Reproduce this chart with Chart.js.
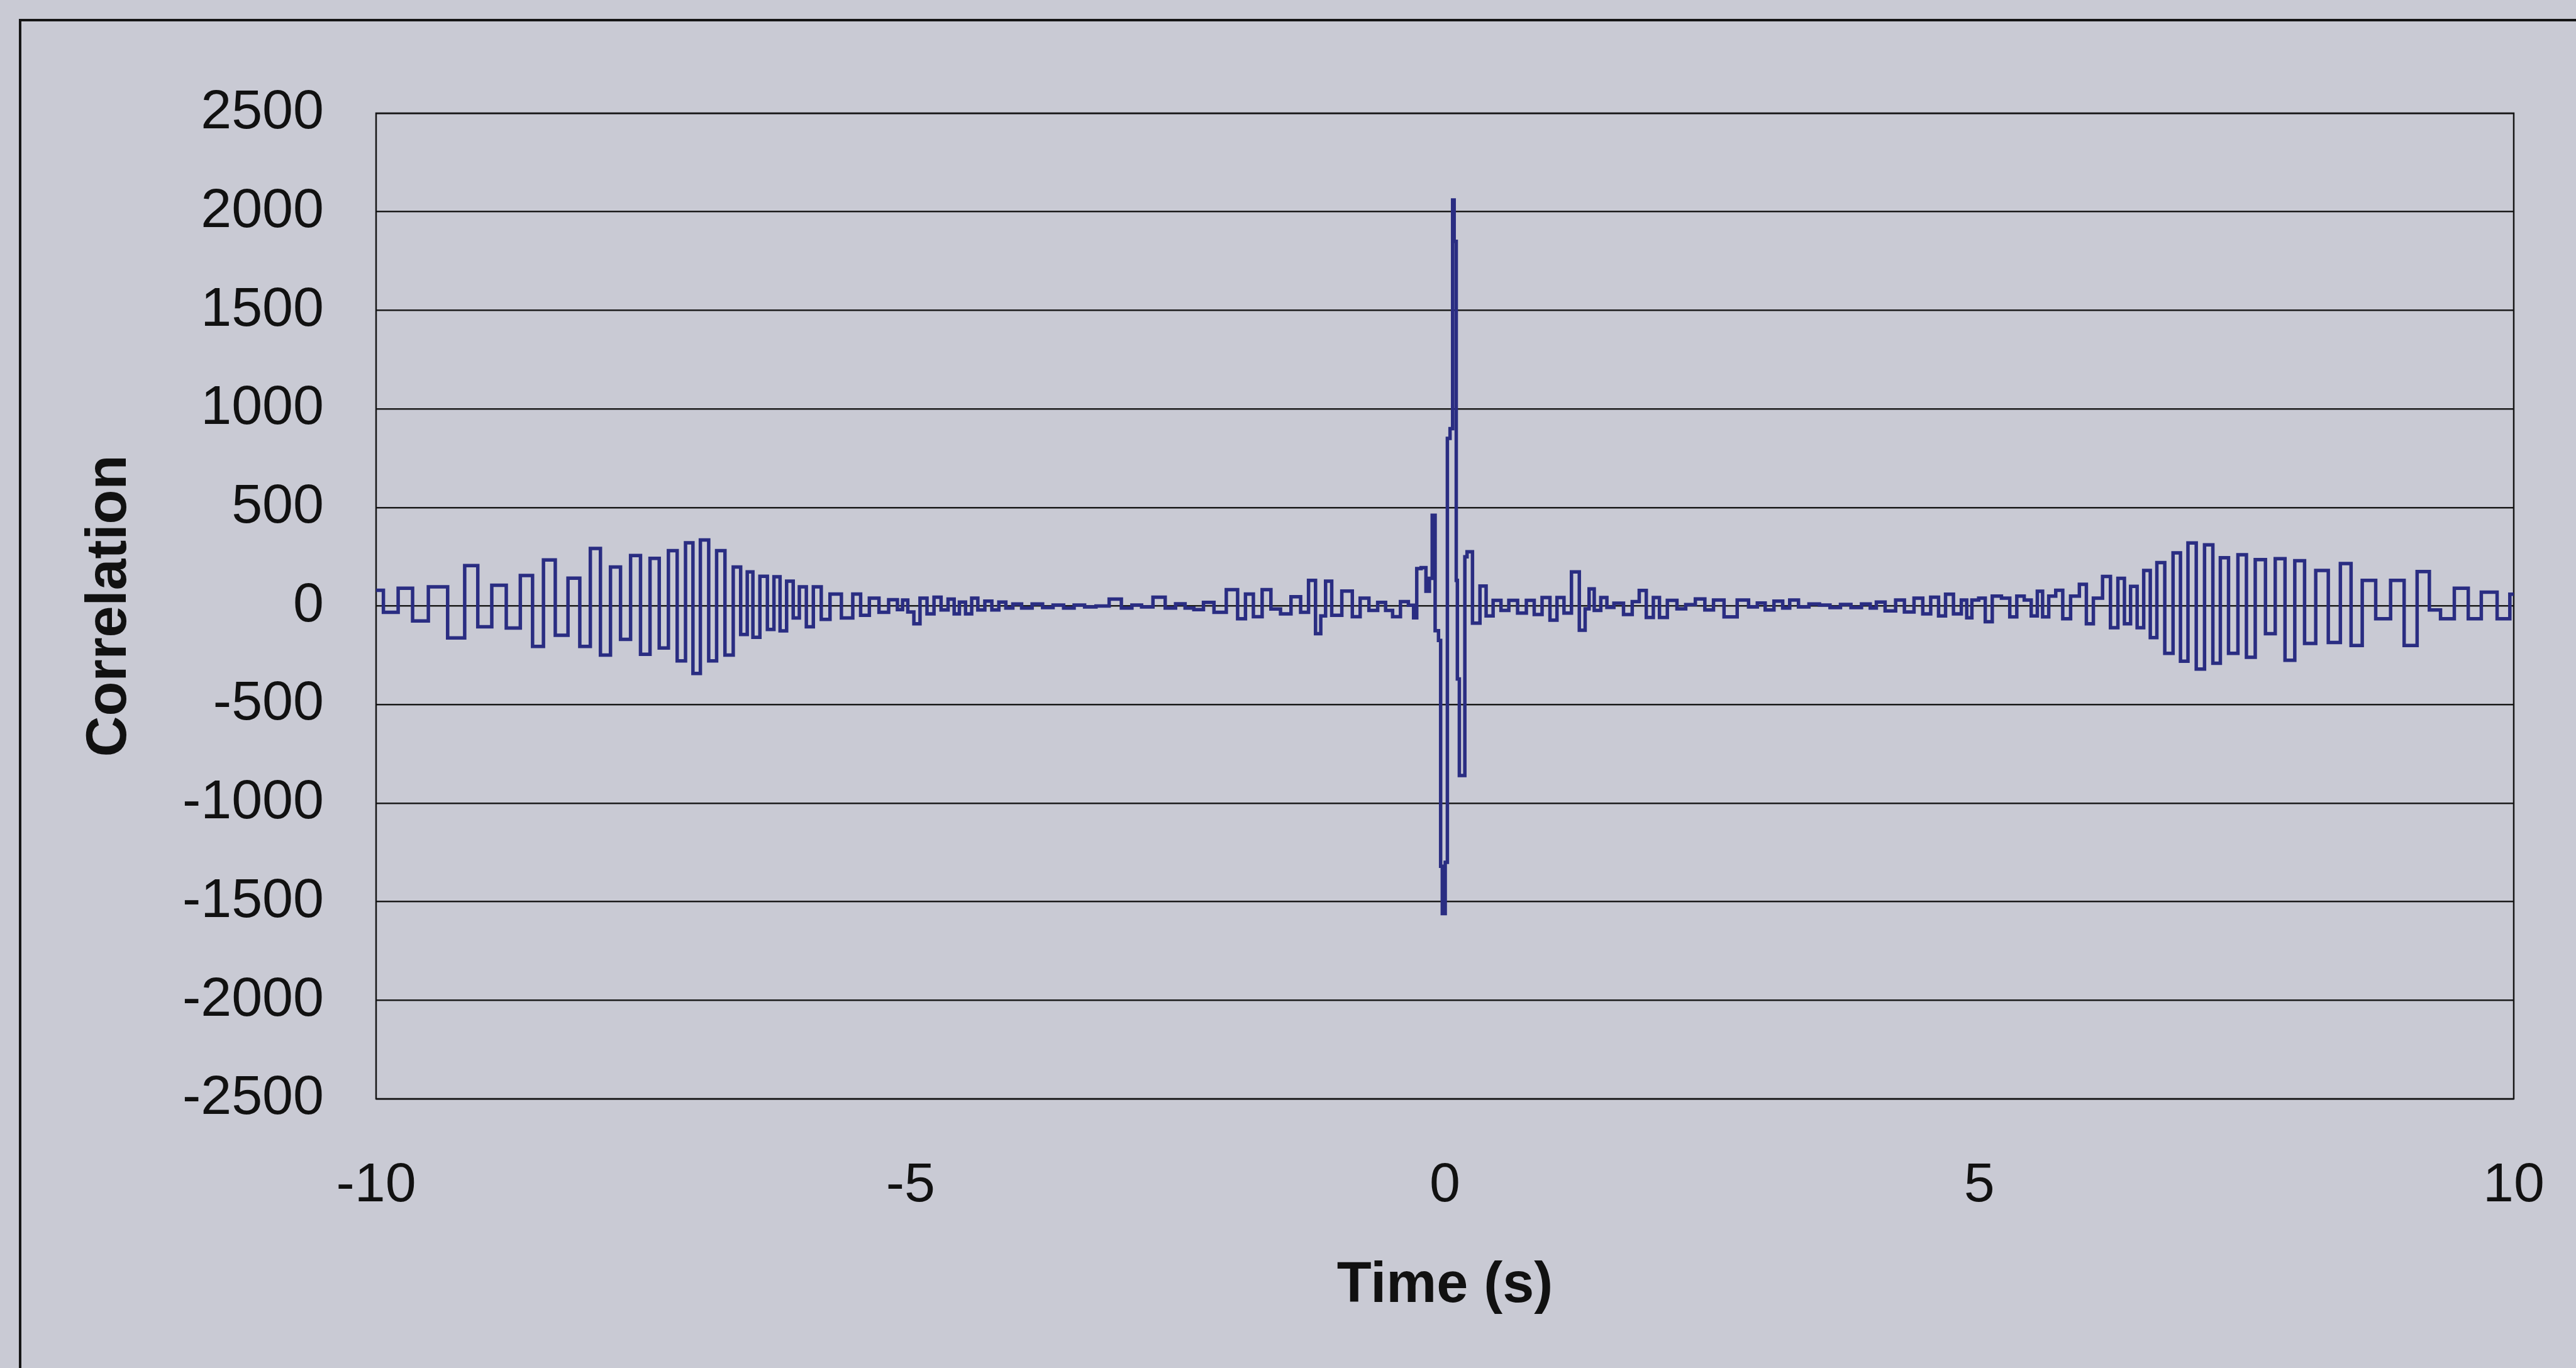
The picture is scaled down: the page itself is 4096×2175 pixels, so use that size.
<!DOCTYPE html>
<html>
<head>
<meta charset="utf-8">
<script src="https://cdn.jsdelivr.net/npm/chart.js@4.4.1/dist/chart.umd.min.js"></script>
<style>
  html, body { margin: 0; padding: 0; background: #c9cad4; }
  #wrap { position: relative; width: 4096px; height: 2175px; overflow: hidden; background: #c9cad4; }
  #frame { position: absolute; left: 30px; top: 30px; right: -20px; bottom: -20px;
           border-left: 4px solid #151515; border-top: 4px solid #151515; }
  canvas { position: absolute; left: 0; top: 0; }
</style>
</head>
<body>
<div id="wrap">
  <div id="frame"></div>
  <canvas id="chart" width="4096" height="2175"></canvas>
</div>
<script>
// time (s) and correlation, peak by peak
const times = [
  -10.0, -9.863, -9.724, -9.593, -9.429, -9.232, -9.110, -8.987, -8.848, -8.716,
  -8.585, -8.487, -8.381, -8.266, -8.143, -8.045, -7.946, -7.856, -7.758, -7.668,
  -7.570, -7.482, -7.392, -7.310, -7.220, -7.146, -7.064, -7.007, -6.925, -6.851,
  -6.777, -6.695, -6.622, -6.556, -6.499, -6.450, -6.368, -6.310, -6.245, -6.196,
  -6.122, -6.073, -6.007, -5.942, -5.876, -5.794, -5.712, -5.581, -5.499, -5.434,
  -5.336, -5.254, -5.155, -5.090, -5.058, -4.993, -4.944, -4.878, -4.813, -4.747,
  -4.681, -4.616, -4.567, -4.518, -4.452, -4.403, -4.337, -4.272, -4.206, -4.141,
  -4.075, -4.010, -3.911, -3.813, -3.715, -3.617, -3.518, -3.420, -3.322, -3.207,
  -3.076, -2.978, -2.879, -2.797, -2.666, -2.568, -2.472, -2.390, -2.308, -2.210,
  -2.111, -1.980, -1.899, -1.833, -1.751, -1.669, -1.587, -1.489, -1.391, -1.309,
  -1.243, -1.178, -1.145, -1.088, -1.030, -0.899, -0.834, -0.752, -0.670, -0.588,
  -0.522, -0.457, -0.375, -0.309, -0.277, -0.250, -0.195, -0.160, -0.130, -0.108,
  -0.075, -0.045, -0.035, -0.014, 0.020, 0.026, 0.070, 0.074, 0.099, 0.113,
  0.120, 0.150, 0.180, 0.193, 0.221, 0.295, 0.361, 0.410, 0.492, 0.557,
  0.639, 0.721, 0.803, 0.868, 0.950, 1.016, 1.081, 1.147, 1.221, 1.294,
  1.330, 1.368, 1.426, 1.491, 1.540, 1.622, 1.720, 1.785, 1.851, 1.917,
  1.983, 2.032, 2.130, 2.212, 2.294, 2.392, 2.472, 2.554, 2.669, 2.800,
  2.882, 2.964, 3.029, 3.128, 3.193, 3.259, 3.357, 3.455, 3.554, 3.652,
  3.750, 3.848, 3.947, 4.012, 4.061, 4.176, 4.258, 4.340, 4.438, 4.504,
  4.586, 4.651, 4.717, 4.799, 4.864, 4.900, 4.961, 5.027, 5.084, 5.158,
  5.256, 5.314, 5.387, 5.453, 5.518, 5.567, 5.617, 5.682, 5.748, 5.813,
  5.895, 5.977, 6.026, 6.108, 6.198, 6.256, 6.337, 6.378, 6.452, 6.501,
  6.575, 6.624, 6.698, 6.772, 6.853, 6.911, 6.993, 7.066, 7.148, 7.222,
  7.288, 7.375, 7.464, 7.534, 7.629, 7.725, 7.812, 7.908, 7.995, 8.091,
  8.204, 8.326, 8.430, 8.526, 8.639, 8.778, 8.918, 9.031, 9.161, 9.260,
  9.370, 9.518, 9.631, 9.762, 9.927, 10.0
];
const correlation = [
  80, -32, 90, -76, 97, -162, 205, -105, 105, -112,
  155, -205, 234, -148, 141, -205, 292, -249, 198, -169,
  256, -245, 242, -213, 281, -278, 321, -342, 335, -278,
  281, -249, 198, -144, 173, -159, 151, -119, 148, -126,
  126, -61, 97, -105, 97, -68, 61, -61, 61, -47,
  40, -32, 32, -18, 30, -30, -90, 40, -40, 45,
  -20, 35, -40, 20, -40, 40, -20, 25, -20, 20,
  -10, 10, -10, 10, -8, 5, -10, 5, -5, 0,
  35, -10, 5, -5, 45, -10, 11, -10, -18, 18,
  -32, 83, -65, 61, -54, 83, -15, -40, 47, -32,
  130, -140, -50, 126, -47, 76, -54, 40, -22, 18,
  -22, -54, 22, 4, -60, 190, 195, 75, 140, 460,
  -125, -175, -1320, -1560, -1300, 850, 900, 2060, 1850, 130,
  -370, -860, -860, 250, 275, -87, 101, -50, 29, -22,
  29, -36, 29, -43, 43, -72, 43, -36, 173, -123,
  -14, 87, -22, 43, -7, 14, -43, 22, 79, -58,
  43, -58, 29, -14, 7, 36, -20, 30, -55, 30,
  -5, 15, -20, 25, -10, 30, -5, 10, 5, -8,
  8, -8, 10, -10, 20, -25, 30, -30, 40, -40,
  45, -50, 60, -40, 30, -60, 30, 40, -80, 50,
  40, -55, 50, 30, -50, 75, -55, 50, 80, -65,
  50, 110, -90, 40, 150, -110, 140, -90, 100, -110,
  180, -160, 220, -240, 270, -280, 320, -320, 310, -290,
  245, -240, 260, -260, 235, -140, 240, -275, 230, -190,
  180, -185, 215, -200, 130, -65, 130, -200, 175, -20,
  -65, 90, -65, 70, -65, 60
];

const xMin = -10, xMax = 10, xStep = 5;
const yMin = -2500, yMax = 2500, yStep = 500;

Chart.defaults.font.family = "'Liberation Sans', Arial, sans-serif";
Chart.defaults.color = '#111';

// box around the plot area, as in the spreadsheet chart
const plotBorder = {
  id: 'plotBorder',
  beforeDatasetsDraw(chart) {
    const { ctx, chartArea: a } = chart;
    ctx.save();
    ctx.strokeStyle = '#151515';
    ctx.lineWidth = 2.5;
    ctx.strokeRect(a.left, a.top, a.right - a.left, a.bottom - a.top);
    ctx.restore();
  }
};

new Chart(document.getElementById('chart').getContext('2d'), {
  type: 'line',
  data: {
    datasets: [{
      data: times.map((t, i) => ({ x: t, y: correlation[i] })),
      borderColor: '#2a2d82',
      borderWidth: 5.5,
      pointRadius: 0,
      stepped: 'middle',
      fill: false
    }]
  },
  options: {
    responsive: false,
    animation: false,
    devicePixelRatio: 1,
    layout: { padding: { left: 0, top: 180, right: 99, bottom: 0 } },
    plugins: { legend: { display: false }, tooltip: { enabled: false } },
    scales: {
      x: {
        type: 'linear',
        min: xMin, max: xMax,
        afterFit: s => { s.height = 428; s.paddingLeft = 0; s.paddingRight = 0; },
        grid: { display: false, drawTicks: false },
        border: { display: false },
        ticks: { stepSize: xStep, padding: 86, font: { size: 88 }, maxRotation: 0,
                 callback: v => String(v) },
        title: { display: true, text: 'Time (s)', font: { size: 90, weight: 'bold' },
                 padding: { top: 0, bottom: 76 } }
      },
      y: {
        min: yMin, max: yMax,
        afterFit: s => { s.width = 598; },
        grid: { color: '#1a1a1a', lineWidth: 2.5, drawTicks: false },
        border: { display: false },
        ticks: { stepSize: yStep, padding: 83, font: { size: 88 },
                 callback: v => String(v) },
        title: { display: true, text: 'Correlation', font: { size: 90, weight: 'bold' },
                 padding: { top: 121, bottom: 0 } }
      }
    }
  },
  plugins: [plotBorder]
});
</script>
</body>
</html>
